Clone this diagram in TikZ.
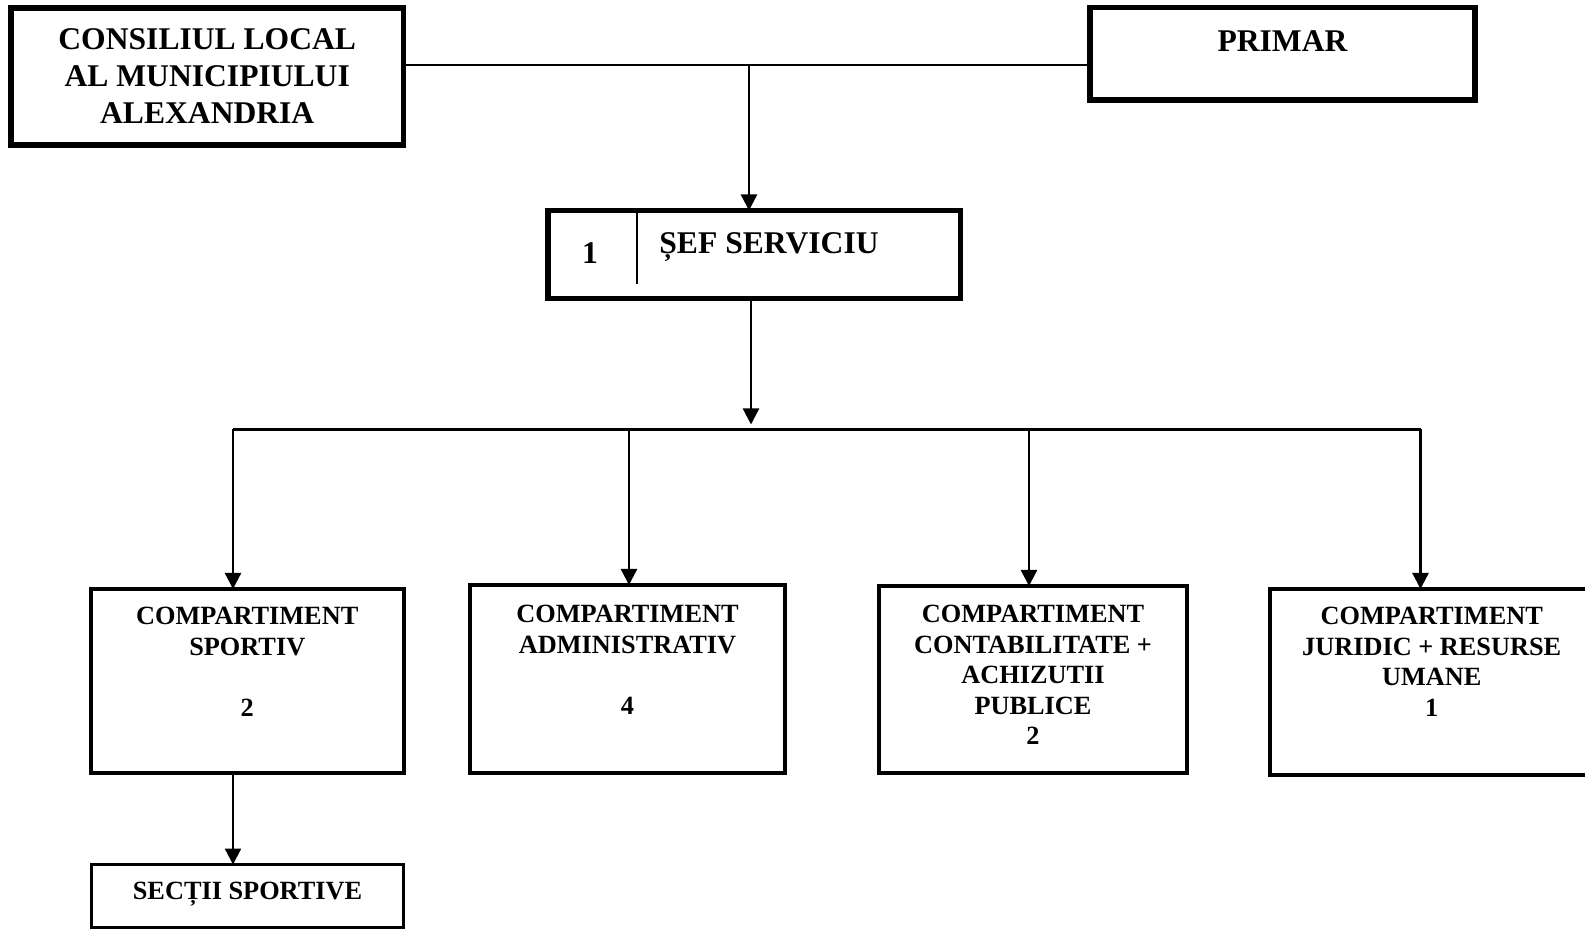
\documentclass[tikz,border=0pt]{standalone}
\usepackage{fontspec}
\setmainfont{Liberation Serif}
\usepackage{tikz}
\usetikzlibrary{arrows.meta,fit,calc}

\tikzset{
  box/.style={draw, inner sep=0pt, outer sep=0pt},
  bigtxt/.style={font={\fontsize{15.8}{18.5}\selectfont\bfseries}, align=center, inner sep=0pt, anchor=north},
  smalltxt/.style={font={\fontsize{13.15}{15.25}\selectfont\bfseries}, align=center, inner sep=0pt, anchor=north},
  arr/.style={line width=1.15pt, -{Triangle[length=8pt,width=8pt]}},
  conn/.style={line width=1.15pt}
}

\begin{document}
\begin{tikzpicture}[x=0.5pt, y=-0.5pt]
      \useasboundingbox (0,0) rectangle (1585,929);

      % boxes
      \node[box, line width=2.75pt, fit={(11,8) (403.5,145)}] (consiliu) {};
      \node[box, line width=2.75pt, fit={(1090,7.5) (1475,100)}] (primar) {};
      \node[box, line width=2.75pt, fit={(548,210.5) (960.5,298.5)}] (sef) {};
      \node[box, line width=2pt, fit={(91,589) (403.5,773)}] (sportiv) {};
      \node[box, line width=2pt, fit={(470,585) (785,773)}] (admin) {};
      \node[box, line width=2pt, fit={(879,586) (1187,773)}] (contab) {};
      \node[box, line width=2pt, fit={(1269.5,589) (1594,775.5)}] (juridic) {};
      \node[box, line width=1.5pt, fit={(91.5,864.5) (403.5,927.5)}] (sectii) {};
      \draw[line width=1pt] (637,213) -- (637,284);

      % texts
      \node[bigtxt] (consiliu-t) at (consiliu.center |- 0,28) {CONSILIUL LOCAL\\AL MUNICIPIULUI\\ALEXANDRIA};
      \node[bigtxt] (primar-t) at (primar.center |- 0,30) {PRIMAR};
      \node[bigtxt] (sef-nr) at (590,242) {1};
      \node[bigtxt, anchor=north west] (sef-t) at (659,232) {ȘEF SERVICIU};
      \node[smalltxt] (sportiv-t) at (sportiv.center |- 0,607) {COMPARTIMENT\\SPORTIV\\[15.25pt]2};
      \node[smalltxt] (admin-t) at (admin.center |- 0,605) {COMPARTIMENT\\ADMINISTRATIV\\[15.25pt]4};
      \node[smalltxt] (contab-t) at (contab.center |- 0,605) {COMPARTIMENT\\CONTABILITATE +\\ACHIZUTII\\PUBLICE\\2};
      \node[smalltxt] (juridic-t) at (juridic.center |- 0,607) {COMPARTIMENT\\JURIDIC + RESURSE\\UMANE\\1};
      \node[smalltxt] (sectii-t) at (sectii.center |- 0,882) {SECȚII SPORTIVE};

      % connectors
      \coordinate (top) at (749,65);
      \coordinate (bar) at (751,429.5);
      \coordinate (d1) at (233,429.5);
      \coordinate (d2) at (629,429.5);
      \coordinate (d3) at (1029,429.5);
      \coordinate (d4) at (1420.5,429.5);

      \draw[conn] (consiliu.east |- top) -- (primar.west |- top);
      \draw[arr] (top) -- (sef.north -| top);
      \draw[arr] (sef.south -| bar) -- ($(bar)+(0,-5)$);
      \draw[conn] (d1) -- (d4);
      \draw[arr] (d1) -- (d1 |- sportiv.north);
      \draw[arr] (d2) -- (d2 |- admin.north);
      \draw[arr] (d3) -- (d3 |- contab.north);
      \draw[arr] (d4) -- (d4 |- juridic.north);
      \draw[arr] (d1 |- sportiv.south) -- (d1 |- sectii.north);
    \end{tikzpicture}
\end{document}
